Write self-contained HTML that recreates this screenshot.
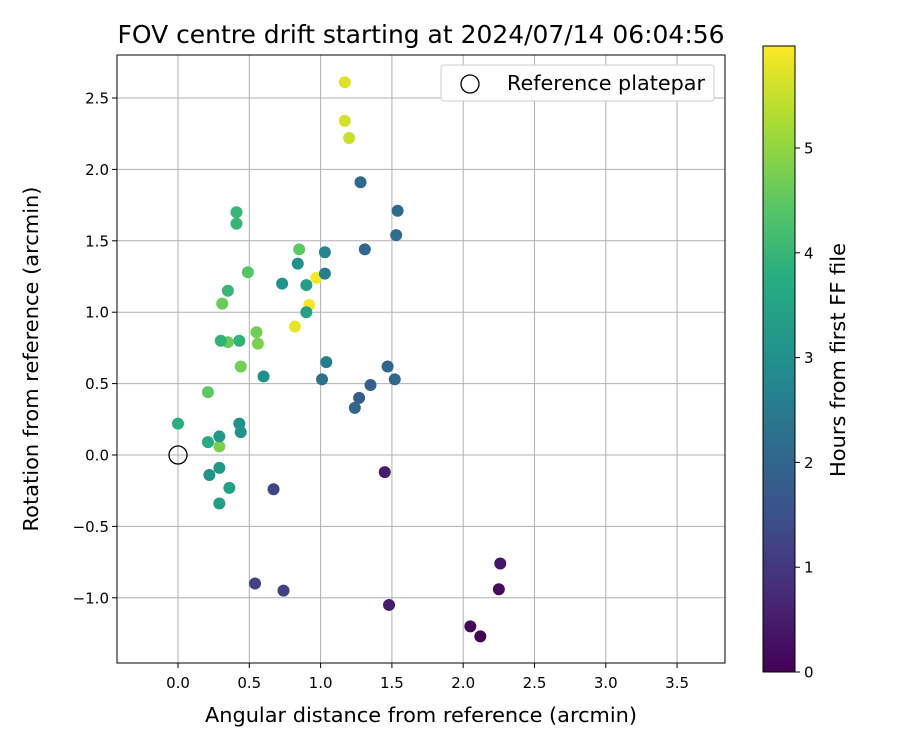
<!DOCTYPE html>
<html><head><meta charset="utf-8"><style>
body{margin:0;background:#fff;font-family:"Liberation Sans","DejaVu Sans",sans-serif;}
svg text{font-family:"DejaVu Sans","Liberation Sans",sans-serif;}
</style></head><body>
<svg id="chart" width="900" height="750" xmlns="http://www.w3.org/2000/svg">
<rect width="900" height="750" fill="#fff"/>
<text x="421" y="43" text-anchor="middle" font-size="25" textLength="607" lengthAdjust="spacingAndGlyphs">FOV centre drift starting at 2024/07/14 06:04:56</text>
<g id="grid"></g>
<g id="pts"></g>
<rect x="117" y="55" width="608" height="608" fill="none" stroke="#000" stroke-width="1"/>
<g id="ticks"></g>
<text x="421" y="722" text-anchor="middle" font-size="20.8" textLength="432" lengthAdjust="spacingAndGlyphs">Angular distance from reference (arcmin)</text>
<text transform="translate(38,359) rotate(-90)" text-anchor="middle" font-size="20.8" textLength="345" lengthAdjust="spacingAndGlyphs">Rotation from reference (arcmin)</text>
<g>
<rect x="441" y="65" width="273" height="36" rx="3" fill="#fff" stroke="#ccc"/>
<circle cx="470" cy="84" r="9" fill="none" stroke="#000" stroke-width="1.3"/>
<text x="507" y="90" font-size="20.7" textLength="198" lengthAdjust="spacingAndGlyphs">Reference platepar</text>
</g>
<defs><linearGradient id="vir" x1="0" y1="1" x2="0" y2="0"></linearGradient></defs>
<rect x="763" y="46" width="32" height="626" fill="url(#vir)" stroke="#000" stroke-width="1"/>
<g id="cticks"></g>
<text transform="translate(845,360) rotate(-90)" text-anchor="middle" font-size="20.8" textLength="234" lengthAdjust="spacingAndGlyphs">Hours from first FF file</text>
</svg>
<script>
const xs=[1.17,1.17,1.20,0.97,0.92,0.82,0.85,0.49,0.55,0.56,0.44,0.31,0.35,0.21,0.29,0.41,0.41,0.35,0.30,0.43,0.00,0.21,0.73,0.84,0.90,0.90,0.60,0.43,0.44,0.29,0.29,0.22,0.36,0.29,1.03,1.03,1.04,1.01,1.28,1.31,1.54,1.53,1.47,1.52,1.35,1.27,1.24,0.67,0.54,0.74,1.45,1.48,2.26,2.25,2.05,2.12];
const ys=[2.61,2.34,2.22,1.24,1.05,0.90,1.44,1.28,0.86,0.78,0.62,1.06,0.79,0.44,0.06,1.70,1.62,1.15,0.80,0.80,0.22,0.09,1.20,1.34,1.19,1.00,0.55,0.22,0.16,0.13,-0.09,-0.14,-0.23,-0.34,1.42,1.27,0.65,0.53,1.91,1.44,1.71,1.54,0.62,0.53,0.49,0.40,0.33,-0.24,-0.90,-0.95,-0.12,-1.05,-0.76,-0.94,-1.20,-1.27];
const hours=[5.7,5.6,5.5,5.9,5.9,5.8,4.5,4.4,4.7,4.8,4.7,4.6,4.6,4.5,4.8,4.0,4.0,4.0,3.9,3.9,3.8,3.7,3.1,3.0,3.3,3.4,3.0,3.0,3.1,3.2,3.2,3.1,3.4,3.3,2.7,2.6,2.6,2.3,2.1,2.0,2.1,2.2,2.0,2.0,1.9,1.8,2.0,1.3,1.2,1.2,0.5,0.5,0.4,0.2,0.1,0.0];
const xTicks=[0,0.5,1,1.5,2,2.5,3,3.5];
const yTicks=[-1,-0.5,0,0.5,1,1.5,2,2.5];
const cTicks=[0,1,2,3,4,5];
const NS="http://www.w3.org/2000/svg";
const X=v=>178+142.6*v, Y=v=>455-142.8*v, C=v=>672-104.8*v, HMAX=5.97;
const stops=[[0,[68,1,84]],[0.13,[71,44,122]],[0.25,[59,81,139]],[0.38,[44,113,142]],[0.5,[33,144,141]],[0.63,[39,173,129]],[0.75,[92,200,99]],[0.88,[170,220,50]],[1,[253,231,37]]];
function vir(t){t=Math.max(0,Math.min(1,t));for(let i=1;i<stops.length;i++){if(t<=stops[i][0]){const a=stops[i-1],b=stops[i],f=(t-a[0])/(b[0]-a[0]);return `rgb(${a[1].map((c,k)=>Math.round(c+(b[1][k]-c)*f)).join(',')})`;}}return 'rgb(253,231,37)';}
function mk(tag,attrs,parent){const e=document.createElementNS(NS,tag);for(const k in attrs)e.setAttribute(k,attrs[k]);document.getElementById(parent).appendChild(e);return e;}
const g=document.getElementById('vir');
stops.forEach(s=>{const st=document.createElementNS(NS,'stop');st.setAttribute('offset',s[0]);st.setAttribute('stop-color',vir(s[0]));g.appendChild(st);});
xTicks.forEach(v=>{
 const l=mk('line',{x1:X(v),x2:X(v),y1:55,y2:663,stroke:'#b0b0b0','stroke-width':1},'grid');
 
 
 mk('line',{x1:X(v),x2:X(v),y1:663,y2:668,stroke:'#000'},'ticks');
 const t=mk('text',{x:X(v),y:688,'text-anchor':'middle','font-size':15},'ticks');
 t.textContent=(v<0?'\u2212':'')+Math.abs(v).toFixed(1);
 
 
});
yTicks.forEach(v=>{
 const l=mk('line',{x1:117,x2:725,y1:Y(v),y2:Y(v),stroke:'#b0b0b0','stroke-width':1},'grid');
 
 
 mk('line',{x1:112,x2:117,y1:Y(v),y2:Y(v),stroke:'#000'},'ticks');
 const t=mk('text',{x:109,y:Y(v)+5.5,'text-anchor':'end','font-size':15},'ticks');
 t.textContent=(v<0?'\u2212':'')+Math.abs(v).toFixed(1);
 
 
});
cTicks.forEach(v=>{
 mk('line',{x1:795,x2:800,y1:C(v),y2:C(v),stroke:'#000'},'cticks');
 const t=mk('text',{x:804,y:C(v)+5.5,'font-size':15},'cticks');
 t.textContent=v;
 
 
});
xs.forEach((x,i)=>{
 const c=mk('circle',{cx:X(x),cy:Y(ys[i]),r:6,fill:vir(hours[i]/HMAX)},'pts');
 
 
});
const r=mk('circle',{cx:X(0),cy:Y(0),r:9,fill:'none',stroke:'#000','stroke-width':1.3},'pts');


</script>
</body></html>
